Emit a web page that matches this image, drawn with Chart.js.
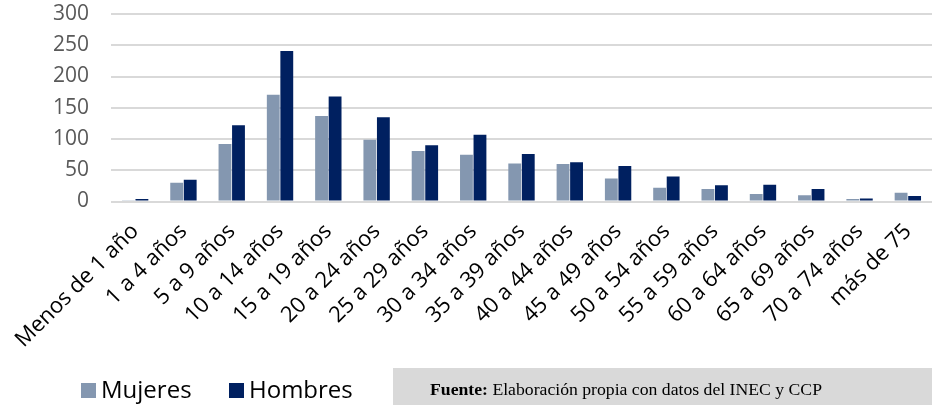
<!DOCTYPE html>
<html>
<head>
<meta charset="utf-8">
<script src="https://cdn.jsdelivr.net/npm/chart.js@4.4.1/dist/chart.umd.min.js"></script>
<style>
    body { margin: 0; background: #fff; }
    #wrap { position: relative; width: 932px; height: 405px; overflow: hidden; }
    #edadChart { position: absolute; left: 0; top: 0; }
    .leyenda { position: absolute; top: 374px; font-family: "Open Sans", sans-serif; font-size: 24px; color: #000; line-height: 30px; }
    .leyenda span.cuadro { display: inline-block; width: 15px; height: 15px; margin-right: 5px; vertical-align: 0px; }
    #fuente { position: absolute; left: 393px; top: 368px; width: 560px; height: 40px; background: #d9d9d9; }
    #fuente p { margin: 0; position: absolute; left: 37px; top: 11px; font-family: "Liberation Serif", "Times New Roman", serif; font-size: 17.7px; color: #000; white-space: nowrap; }
</style>
</head>
<body>
<div id="wrap">
    <canvas id="edadChart" width="932" height="405"></canvas>
    <div class="leyenda" style="left:81px"><span class="cuadro" style="background:#8497b0"></span>Mujeres</div>
    <div class="leyenda" style="left:229px"><span class="cuadro" style="background:#002060"></span>Hombres</div>
    <div id="fuente"><p><b>Fuente:</b> Elaboración propia con datos del INEC y CCP</p></div>
</div>
<script>
var grupos = ['Menos de 1 año', '1 a 4 años', '5 a 9 años', '10 a 14 años', '15 a 19 años',
    '20 a 24 años', '25 a 29 años', '30 a 34 años', '35 a 39 años', '40 a 44 años',
    '45 a 49 años', '50 a 54 años', '55 a 59 años', '60 a 64 años', '65 a 69 años',
    '70 a 74 años', 'más de 75'];
var mujeres = [2, 30, 92, 171, 137, 99, 81, 75, 61, 60, 37, 22, 20, 12, 10, 4, 14];
var hombres = [4, 35, 122, 241, 168, 135, 90, 107, 76, 63, 57, 40, 26, 27, 20, 5, 9];
var ticksY = [0, 50, 100, 150, 200, 250, 300];

var ctx = document.getElementById('edadChart');
var edadChart = new Chart(ctx, {
    type: 'bar',
    data: {
        labels: grupos,
        datasets: [{
            label: 'Mujeres',
            data: mujeres,
            backgroundColor: '#8497b0',
            borderWidth: 0
        }, {
            label: 'Hombres',
            data: hombres,
            backgroundColor: '#002060',
            borderWidth: 0
        }]
    },
    options: {
        responsive: false,
        animation: false,
        devicePixelRatio: 1,
        datasets: {
            bar: { categoryPercentage: 0.56, barPercentage: 0.95 }
        },
        layout: { padding: { top: 14, right: 0, left: 0, bottom: 0 } },
        plugins: {
            legend: { display: false },
            tooltip: { enabled: false }
        },
        scales: {
            x: {
                grid: { display: false, drawTicks: false },
                border: { display: false },
                ticks: {
                    autoSkip: false,
                    maxRotation: 45,
                    minRotation: 45,
                    padding: 17,
                    color: '#000',
                    font: { family: 'Open Sans', size: 22 }
                },
                afterFit: function (scale) {
                    // fixed band for the rotated age labels
                    scale.height = 203.5;
                    scale.paddingLeft = 0;
                    scale.paddingRight = 0;
                }
            },
            y: {
                min: 0,
                max: 300,
                afterBuildTicks: function (scale) {
                    scale.ticks = ticksY.map(function (v) { return { value: v }; });
                },
                grid: { color: '#d9d9d9', lineWidth: 2, drawTicks: false },
                border: { display: false },
                ticks: {
                    autoSkip: false,
                    padding: 22,
                    color: '#595959',
                    font: { family: 'Open Sans', size: 21 }
                },
                afterFit: function (scale) {
                    scale.width = 111;
                    scale.paddingTop = 0;
                    scale.paddingBottom = 0;
                }
            }
        }
    }
});
</script>
</body>
</html>
